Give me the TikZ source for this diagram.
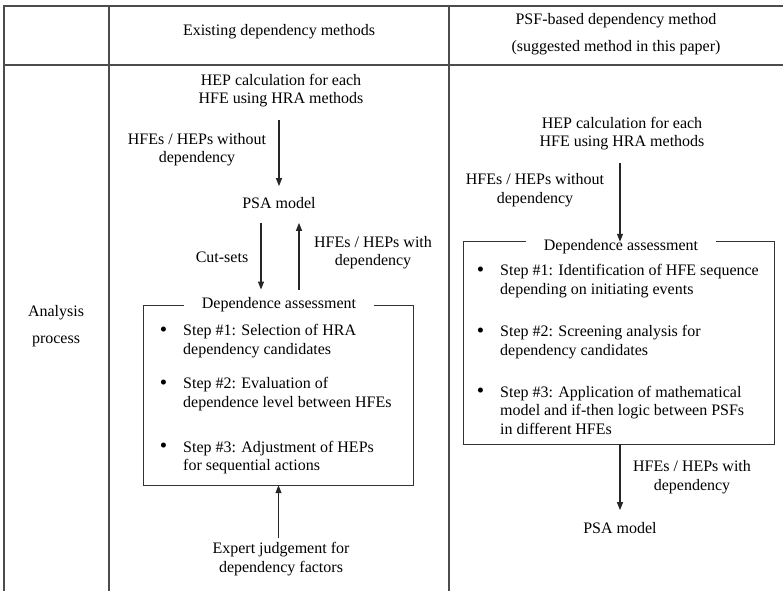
\documentclass[tikz,border=0pt]{standalone}
\usepackage{fontspec}
\setmainfont{Liberation Serif}
\usetikzlibrary{arrows.meta}
\newcommand{\bigbul}{\llap{\raisebox{-0.5pt}{\fontsize{21}{21}\selectfont •}\hspace{16pt}}}
\begin{document}
\begin{tikzpicture}[x=1pt,y=-1pt,
  txt/.style={inner sep=0pt, align=center, font=\fontsize{16}{18.5}\selectfont, text=black},
  steptxt/.style={inner sep=0pt, align=left, anchor=west, font=\fontsize{16}{18.5}\selectfont, text=black},
  boxtitle/.style={inner xsep=18pt, inner ysep=0pt, font=\fontsize{16}{18.5}\selectfont, text=black},
  boxline/.style={draw=black!80, line width=1.1pt},
  tabline/.style={draw=black!70, line width=1.3pt},
  arr/.style={draw=black!85, line width=1.1pt, -{Triangle[length=8pt,width=6pt]}}
]
\useasboundingbox (0,0) rectangle (783,591);
% table
\draw[tabline] (783,6) -- (4,6) -- (4,591);
\draw[tabline] (4,65) -- (783,65);
\draw[tabline] (109,6) -- (109,591);
\draw[tabline] (449,6) -- (449,591);

% header
\node[txt] (h1) at (279,32) {Existing dependency methods};
\node[txt] (h2) at (616,34) {PSF-based dependency method\\[8.5pt](suggested method in this paper)};
\node[txt] (ap) at (56,326) {Analysis\\[8.5pt]process};

% ---- left column ----
\node[txt] (hep1) at (281,90.5) {HEP calculation for each\\HFE using HRA methods};
\node[txt] (psa1) at (279,203) {PSA model};
\node[txt] (wo1) at (197,149.5) {HFEs / HEPs without\\dependency};
\node[txt] (cs) at (222,257) {Cut-sets};
\node[txt] (wi1) at (373,252.5) {HFEs / HEPs with\\dependency};
\node[inner sep=0pt, minimum width=269pt, minimum height=179pt] (lbox) at (278.5,395.5) {};
\node[boxtitle] (ltitle) at (279,305) {Dependence assessment};
\draw[boxline] (ltitle.west |- lbox.north) -- (lbox.north west) -- (lbox.south west) -- (lbox.south east) -- (lbox.north east) -- (ltitle.east |- lbox.north);
\node[steptxt] (ls1) at (183,341) {\bigbul Step \#1: Selection of HRA\\dependency candidates};
\node[steptxt] (ls2) at (183,394) {\bigbul Step \#2: Evaluation of\\dependence level between HFEs};
\node[steptxt] (ls3) at (183,457.5) {\bigbul Step \#3: Adjustment of HEPs\\for sequential actions};
\node[txt] (exp) at (281,559) {Expert judgement for\\dependency factors};

\draw[arr, shorten <=13pt, shorten >=11pt] (hep1.south -| psa1.south) -- (psa1.north);
\draw[arr, shorten <=14pt, shorten >=8pt] ([xshift=-18pt]psa1.south) -- ([xshift=-18pt]psa1.south |- ltitle.north);
\draw[arr, shorten <=8pt, shorten >=14pt] ([xshift=20pt]psa1.south |- ltitle.north) -- ([xshift=20pt]psa1.south);
\draw[arr, shorten <=4pt] (exp.north -| lbox.south) -- (lbox.south);

% ---- right column ----
\node[txt] (hep2) at (622,133.5) {HEP calculation for each\\HFE using HRA methods};
\node[txt] (wo2) at (535,190) {HFEs / HEPs without\\dependency};
\node[inner sep=0pt, minimum width=310pt, minimum height=202pt] (rbox) at (619,343) {};
\node[boxtitle] (rtitle) at (621,247) {Dependence assessment};
\draw[boxline] (rtitle.west |- rbox.north) -- (rbox.north west) -- (rbox.south west) -- (rbox.south east) -- (rbox.north east) -- (rtitle.east |- rbox.north);
\node[steptxt] (rs1) at (500,281) {\bigbul Step \#1: Identification of HFE sequence\\depending on initiating events};
\node[steptxt] (rs2) at (500,342) {\bigbul Step \#2: Screening analysis for\\dependency candidates};
\node[steptxt] (rs3) at (500,410) {\bigbul Step \#3: Application of mathematical\\model and if-then logic between PSFs\\in different HFEs};
\node[txt] (psa2) at (620,528) {PSA model};
\node[txt] (wi2) at (692,477) {HFEs / HEPs with\\dependency};

\draw[arr, shorten <=13pt] ([xshift=-2pt]hep2.south) -- ([xshift=-2pt]hep2.south |- rbox.north);
\draw[arr, shorten >=12pt] (rbox.south -| psa2.north) -- (psa2.north);
\end{tikzpicture}
\end{document}
